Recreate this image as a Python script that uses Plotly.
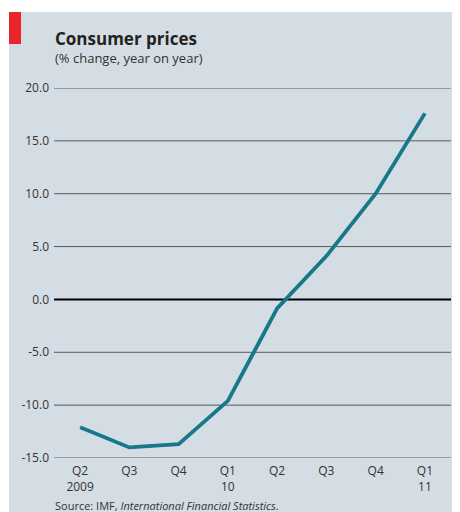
import plotly.graph_objects as go

quarters = ["Q2<br>2009", "Q3", "Q4", "Q1<br>10", "Q2", "Q3", "Q4", "Q1<br>11"]
cpi_change = [-12.1, -14.0, -13.7, -9.6, -0.85, 4.1, 10.0, 17.6]
y_ticks = [-15, -10, -5, 0, 5, 10, 15, 20]
y_tick_labels = ["-15.0", "-10.0", "-5.0", "0.0", "5.0", "10.0", "15.0", "20.0"]

OFF = 8  # page body margin
W, H = 460 - OFF, 512 - OFF
L, T = 54 - OFF, 88 - OFF
R = W - (451 - OFF)
B = H - (458 - OFF)
pw = W - L - R
ph = H - T - B

def px(x):
    return (x - OFF - L) / pw

def py(y):
    return 1 - (y - OFF - T) / ph

bg = "#d5dde4"
fig = go.Figure()
fig.add_trace(go.Scatter(
    x=list(range(len(quarters))), y=cpi_change, mode="lines",
    line=dict(color="#17788a", width=3.8), hoverinfo="skip", showlegend=False,
))

shapes = [
    dict(type="rect", xref="paper", yref="paper", x0=px(9), x1=px(470), y0=py(12), y1=py(520),
         fillcolor=bg, line=dict(width=0), layer="below"),
    dict(type="rect", xref="paper", yref="paper", x0=px(9), x1=px(21), y0=py(12), y1=py(44),
         fillcolor="#e8262c", line=dict(width=0), layer="below"),
]
for v in y_ticks:
    shapes.append(dict(type="line", xref="paper", yref="y", x0=0, x1=1, y0=v, y1=v,
                       line=dict(color="#000000" if v == 0 else "#5a5a5a", width=2 if v == 0 else 1),
                       layer="below"))

fig.update_layout(
    width=W, height=H,
    margin=dict(l=L, r=R, t=T, b=B),
    paper_bgcolor=bg, plot_bgcolor=bg,
    font=dict(family="Open Sans", color="#333333", size=12),
    shapes=shapes,
    xaxis=dict(range=[-0.53, 7.53], tickmode="array", tickvals=list(range(len(quarters))),
               ticktext=quarters, showgrid=False, zeroline=False, showline=False,
               ticks="", ticklabelstandoff=4, tickfont=dict(size=12, color="#333333"), fixedrange=True),
    yaxis=dict(range=[-15, 20], tickmode="array", tickvals=y_ticks, ticktext=y_tick_labels,
               showgrid=False, zeroline=False, showline=False, ticks="",
               ticklabelstandoff=4, tickfont=dict(size=12, color="#333333"), fixedrange=True),
    annotations=[
        dict(text="<b>Consumer prices</b>", xref="paper", yref="paper", x=px(53), y=py(38),
             xanchor="left", yanchor="middle", showarrow=False,
             font=dict(size=17, color="#222222", family="Open Sans")),
        dict(text="(% change, year on year)", xref="paper", yref="paper", x=px(53), y=py(58),
             xanchor="left", yanchor="middle", showarrow=False,
             font=dict(size=13, color="#333333", family="Open Sans")),
        dict(text="Source: IMF, <i>International Financial Statistics</i>.", xref="paper", yref="paper",
             x=px(53), y=py(505), xanchor="left", yanchor="middle", showarrow=False,
             font=dict(size=11, color="#333333", family="Open Sans")),
    ],
)

# white margins at top and left of the page
fig.add_shape(type="rect", xref="paper", yref="paper", x0=px(0), x1=px(9), y0=py(0), y1=py(520),
              fillcolor="white", line=dict(width=0), layer="below")
fig.add_shape(type="rect", xref="paper", yref="paper", x0=px(0), x1=px(470), y0=py(0), y1=py(12),
              fillcolor="white", line=dict(width=0), layer="below")

fig.write_html("out.html")
